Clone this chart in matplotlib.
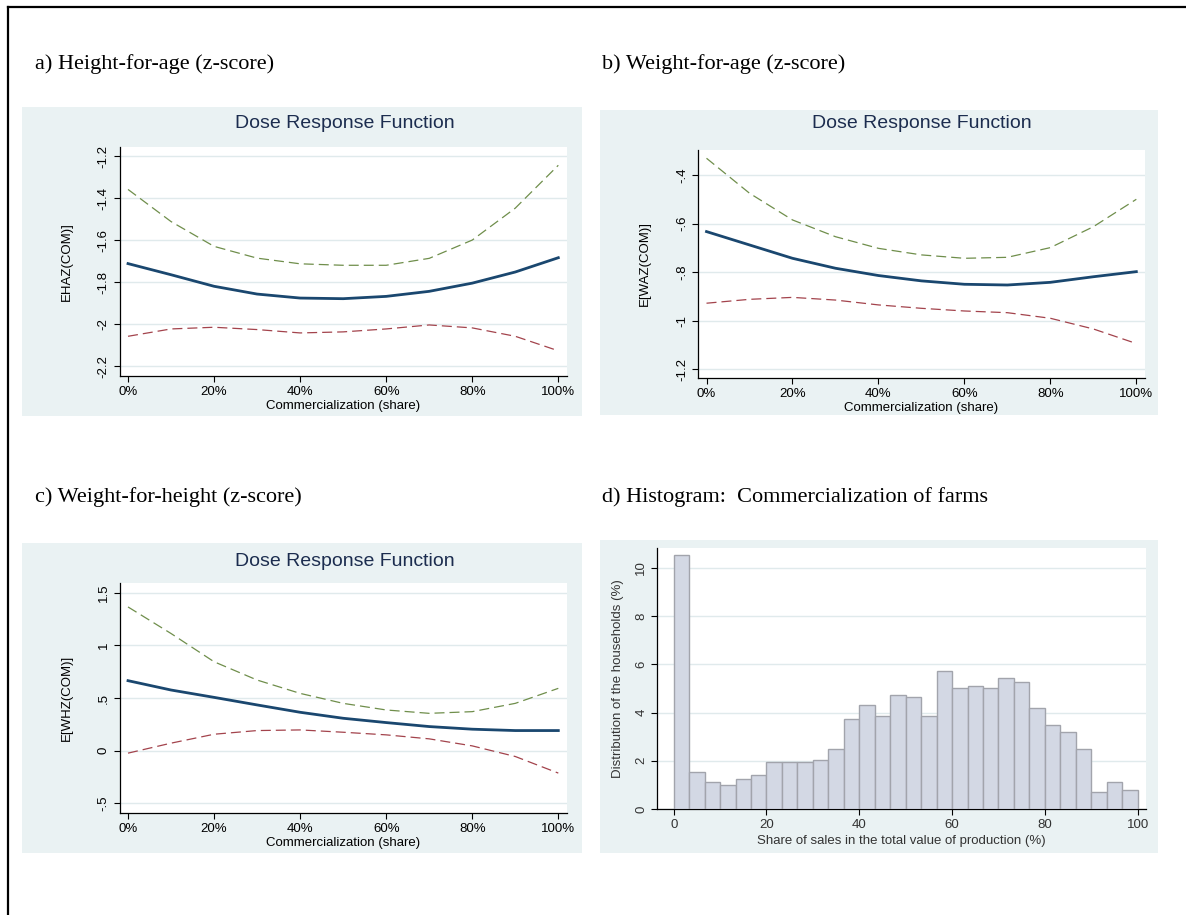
import numpy as np
import matplotlib
matplotlib.use("Agg")
from matplotlib import pyplot as plt
from matplotlib.patches import Rectangle
from matplotlib.lines import Line2D

# data
share = [0.0, 0.1, 0.2, 0.3, 0.4, 0.5, 0.6, 0.7, 0.8, 0.9, 1.0]

haz_mean = [-1.712, -1.765, -1.820, -1.857, -1.876, -1.879, -1.868, -1.844, -1.805, -1.752, -1.684]
haz_upper = [-1.359, -1.512, -1.630, -1.686, -1.713, -1.720, -1.720, -1.687, -1.600, -1.448, -1.244]
haz_lower = [-2.058, -2.023, -2.015, -2.026, -2.042, -2.037, -2.023, -2.004, -2.018, -2.058, -2.127]

waz_mean = [-0.633, -0.688, -0.743, -0.784, -0.814, -0.836, -0.850, -0.853, -0.842, -0.819, -0.798]
waz_upper = [-0.331, -0.475, -0.585, -0.654, -0.702, -0.729, -0.743, -0.739, -0.699, -0.613, -0.500]
waz_lower = [-0.928, -0.912, -0.904, -0.915, -0.935, -0.949, -0.960, -0.967, -0.990, -1.034, -1.094]

whz_mean = [0.665, 0.576, 0.506, 0.434, 0.364, 0.307, 0.266, 0.228, 0.203, 0.190, 0.190]
whz_upper = [1.367, 1.114, 0.845, 0.671, 0.544, 0.449, 0.386, 0.354, 0.370, 0.449, 0.592]
whz_lower = [-0.025, 0.070, 0.155, 0.190, 0.196, 0.174, 0.149, 0.111, 0.044, -0.057, -0.215]

hist_pct = [10.55, 1.52, 1.13, 0.98, 1.23, 1.42, 1.94, 1.94, 1.94, 2.03,
            2.49, 3.73, 4.30, 3.84, 4.74, 4.63, 3.84, 5.71, 5.01, 5.09,
            5.01, 5.44, 5.26, 4.19, 3.47, 3.19, 2.49, 0.72, 1.13, 0.79]

x_ticks = [0, 0.2, 0.4, 0.6, 0.8, 1.0]
x_ticklabels = ['0%', '20%', '40%', '60%', '80%', '100%']

W, H = 1186, 915
plt.rcParams['font.family'] = ['Liberation Sans', 'DejaVu Sans']
fig = plt.figure(figsize=(W / 100, H / 100), dpi=100)
fig.patch.set_facecolor('white')

BG = '#EAF2F3'
GRID = '#E0EAEC'
NAVY = '#1A476F'
GREEN = '#6F8E4B'
MAROON = '#A3434C'


def fbox(x0, y0, x1, y1):
    return [x0 / W, 1 - y1 / H, (x1 - x0) / W, (y1 - y0) / H]


def bg_rect(x0, y0, x1, y1):
    fig.patches.append(Rectangle((x0 / W, 1 - y1 / H), (x1 - x0) / W, (y1 - y0) / H,
                                 transform=fig.transFigure, facecolor=BG,
                                 edgecolor='none', zorder=-5))


def style_axes(ax, fontcolor='black'):
    for s in ['top', 'right']:
        ax.spines[s].set_visible(False)
    for s in ['left', 'bottom']:
        ax.spines[s].set_linewidth(0.9)
        ax.spines[s].set_color('black')
    ax.tick_params(direction='out', length=4, width=0.8, pad=3,
                   labelsize=9.5, labelcolor=fontcolor)
    for lab in ax.get_yticklabels():
        lab.set_rotation(90)
        lab.set_va('center')


def place_labels(ax, box, xlab, xlab_y, ylab, ylab_x, size=9.5, color='black'):
    x0, y0, x1, y1 = box
    ax.set_xlabel(xlab, fontsize=size, color=color)
    ax.set_ylabel(ylab, fontsize=size, color=color)
    ax.xaxis.label.set_va('center')
    ax.yaxis.label.set_va('center')
    ax.xaxis.set_label_coords(0.5, (y1 - xlab_y) / (y1 - y0))
    ax.yaxis.set_label_coords((ylab_x - x0) / (x1 - x0), 0.5)


def dose_panel(box, ylim, yticks, yticklabels, mean, upper, lower, ylab, title_xy, xlab_y):
    x0, y0, x1, y1 = box
    ax = fig.add_axes(fbox(*box))
    ax.set_facecolor('white')
    ax.plot(share, upper, color=GREEN, lw=0.9, dashes=(8, 4), zorder=3)
    ax.plot(share, lower, color=MAROON, lw=0.9, dashes=(8, 4), zorder=3)
    ax.plot(share, mean, color=NAVY, lw=2.0, zorder=4)
    ax.set_xlim(-0.0198, 1.0202)
    ax.set_ylim(*ylim)
    ax.set_xticks(x_ticks)
    ax.set_xticklabels(x_ticklabels)
    ax.set_yticks(yticks)
    ax.set_yticklabels(yticklabels)
    ax.yaxis.grid(True, color=GRID, lw=1.0)
    ax.set_axisbelow(True)
    style_axes(ax)
    place_labels(ax, box, 'Commercialization (share)', xlab_y, ylab, x0 - 53)
    fig.text(title_xy[0] / W, 1 - title_xy[1] / H, 'Dose Response Function',
             ha='center', va='center', fontsize=14, color='#1C2D4F')
    return ax


# background panels
bg_rect(22, 107, 582, 416)
bg_rect(600, 110, 1158, 415)
bg_rect(22, 543, 582, 853)
bg_rect(600, 540, 1158, 853)

# a) height-for-age
dose_panel((119.5, 147, 567, 376), (-2.247, -1.157),
           [-2.2, -2.0, -1.8, -1.6, -1.4, -1.2], ['-2.2', '-2', '-1.8', '-1.6', '-1.4', '-1.2'],
           haz_mean, haz_upper, haz_lower, 'EHAZ(COM)]', (345, 123), 406)

# b) weight-for-age
dose_panel((698, 150, 1145, 378), (-1.236, -0.297),
           [-1.2, -1.0, -0.8, -0.6, -0.4], ['-1.2', '-1', '-.8', '-.6', '-.4'],
           waz_mean, waz_upper, waz_lower, 'E[WAZ(COM)]', (922, 124), 408)

# c) weight-for-height
dose_panel((119.5, 583, 567, 813), (-0.595, 1.595),
           [-0.5, 0, 0.5, 1.0, 1.5], ['-.5', '0', '.5', '1', '1.5'],
           whz_mean, whz_upper, whz_lower, 'E[WHZ(COM)]', (345, 562), 843)

# d) histogram
hbox = (657, 548, 1146, 809)
axh = fig.add_axes(fbox(*hbox))
axh.set_facecolor('white')
edges = np.linspace(0, 100, len(hist_pct) + 1)
axh.bar(edges[:-1], hist_pct, width=np.diff(edges), align='edge',
        color='#D3D8E4', edgecolor='#A2A4AC', linewidth=1.0, zorder=3)
axh.set_xlim(-3.6, 101.8)
axh.set_ylim(0, 10.83)
axh.set_xticks([0, 20, 40, 60, 80, 100])
axh.set_yticks([0, 2, 4, 6, 8, 10])
axh.yaxis.grid(True, color=GRID, lw=1.0)
axh.set_axisbelow(True)
style_axes(axh, fontcolor='#333333')
place_labels(axh, hbox, 'Share of sales in the total value of production (%)', 841,
             'Distribution of the households (%)', 618, size=9.5, color='#333333')

# panel captions
serif = ['Liberation Serif', 'DejaVu Serif']
fig.text(35 / W, 1 - 64 / H, 'a) Height-for-age (z-score)', family=serif, fontsize=16, va='center')
fig.text(602 / W, 1 - 64 / H, 'b) Weight-for-age (z-score)', family=serif, fontsize=16, va='center')
fig.text(35 / W, 1 - 497 / H, 'c) Weight-for-height (z-score)', family=serif, fontsize=16, va='center')
fig.text(602 / W, 1 - 497 / H, 'd) Histogram:  Commercialization of farms', family=serif, fontsize=16, va='center')

# frame of the figure box (left and top edges visible)
fig.add_artist(Line2D([8 / W, 8 / W], [0, 1 - 7 / H], transform=fig.transFigure, color='black', lw=1.6))
fig.add_artist(Line2D([8 / W, 1], [1 - 7 / H, 1 - 7 / H], transform=fig.transFigure, color='black', lw=1.6))

fig.savefig('out.png', dpi=100)
